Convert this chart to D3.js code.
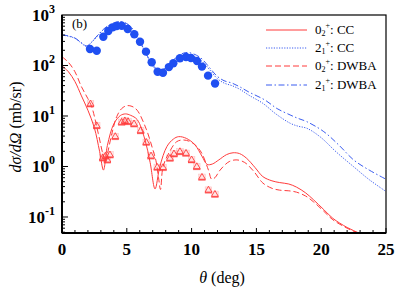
<!DOCTYPE html>
<html><head><meta charset="utf-8">
<script src="https://cdn.jsdelivr.net/npm/d3@7"></script>
<style>body{margin:0;background:#fff}svg{display:block}
svg text{font-family:"Liberation Serif","Times New Roman","Nimbus Roman","DejaVu Serif",serif}</style>
</head><body><div id="c"></div>
<script>
// ---- data (theta in deg, cross-section in mb/sr) ----
const redSolidTheta = [0,0.5,1,1.5,2,2.5,2.9,3.2,3.5,4.0,4.5,4.9,5.3,5.8,6.4,6.8,7.18,7.55,8.1,8.6,9.0,9.6,10.25,10.8,11.2,11.6,12.1,12.7,13.2,13.7,14.25,14.9,15.5,16.2,16.8,17.5,18.1,18.8,19.4,20.2,20.9,22,23,24];
const redSolidVal   = [99,75,48,25,13,5.8,2.0,0.85,2.6,7.0,10.2,11,10.3,8.5,3.4,1.2,0.36,1.0,2.5,3.5,3.9,3.6,2.7,1.6,1.1,1.12,1.35,1.72,1.87,1.8,1.45,0.95,0.63,0.52,0.48,0.45,0.39,0.3,0.22,0.14,0.094,0.062,0.047,0.035];
const redDashTheta = [0,0.5,1,1.5,2.0,2.3,2.8,3.14,3.35,3.55,3.85,4.22,4.6,5.0,5.4,5.8,6.5,7.0,7.25,7.45,7.6,7.8,8.3,8.85,9.35,9.9,10.4,10.8,11.3,11.55,11.8,12.2,12.9,13.5,14.1,14.8,15.5,16.2,16.8,17.5,18.1,18.8,19.4,20.2,20.9,22,23,24];
const redDashVal   = [149,115,75,38,22,15,4.5,1.82,1.2,2.0,4.5,9.7,14,16,15.5,13,5.5,2.2,1.3,0.6,0.35,1.0,1.96,3.1,3.35,3.1,2.5,1.8,0.85,0.56,0.6,0.85,1.25,1.35,1.2,0.8,0.47,0.37,0.34,0.33,0.31,0.26,0.2,0.13,0.088,0.06,0.046,0.035];
const blueDotTheta = [0,0.5,1.0,1.4,1.9,2.3,2.8,3.3,3.95,4.5,5.1,5.75,6.5,7.2,7.8,8.6,9.35,9.8,10.65,11.4,11.95,12.5,13.1,13.7,14.4,15.5,16.5,17.6,18.2,18.9,19.9,21.2,22.5,23.7,25];
const blueDotVal   = [402,380,345,290,240,290,400,540,680,730,640,400,165,85,78,120,160,165,130,82,56,45,40,34,26,17.8,11,7.2,6.3,5.7,3.9,1.9,0.99,0.55,0.32];
const blueDashDotTheta = [0,0.5,1.0,1.4,1.9,2.3,2.8,3.3,3.95,4.5,5.1,5.75,6.5,7.2,7.8,8.6,9.35,9.8,10.65,11.4,11.95,12.5,13.1,13.7,14.4,15.66,16.6,17.6,18.2,18.9,20.2,21.4,22.5,23.7,25];
const blueDashDotVal   = [405,385,350,295,245,295,410,550,690,740,650,410,170,90,84,130,175,180,145,90,62,50,45,38,30,20.7,14,10.5,9,7.7,4.9,2.6,1.35,0.85,0.56];
const dotsTheta = [2.16,2.68,3.19,3.57,3.91,4.22,4.61,5.07,5.58,6.02,6.48,6.92,7.38,7.79,8.25,8.59,9.10,9.57,9.95,10.42,10.80,11.27,11.81];
const dotsVal   = [212,196,372,482,570,605,614,528,415,296,188,116,75,72,93,111,139,147,141,123,95,63,44];
const triTheta = [2.2,2.68,3.14,3.35,3.5,3.7,4.11,4.6,4.85,5.1,5.56,6.07,6.5,6.87,7.35,7.8,8.33,8.64,9.1,9.57,10.0,10.4,10.8,11.3,11.8];
const triVal   = [17.3,6.4,1.47,1.6,1.34,1.69,3.9,7.5,8.0,7.7,6.95,5.1,3.0,1.61,0.96,0.95,1.45,1.77,1.96,1.82,1.35,0.99,0.61,0.34,0.28];
const xTicks = [0,5,10,15,20,25];
const yTickExp = [-1,0,1,2,3];
const legendNames = [["0","2",": CC"],["2","1",": CC"],["0","2",": DWBA"],["2","1",": DWBA"]];

// ---- layout ----
const W=399,H=289, L=62, R=386, T=15, B=233;
const RED="#ff3b3b", BLUE="#3a5cf0";
const svg=d3.select("#c").append("svg").attr("width",W).attr("height",H);
const x=d3.scaleLinear().domain([0,25]).range([L,R]);
const y=d3.scaleLog().domain([Math.pow(10,-1.317),1000]).range([B,T]);

svg.append("defs").append("clipPath").attr("id","cp").append("rect")
  .attr("x",L).attr("y",T).attr("width",R-L).attr("height",B-T);

const g=svg.append("g").attr("clip-path","url(#cp)");
const line=d3.line().x(d=>x(d[0])).y(d=>y(d[1])).curve(d3.curveCatmullRom.alpha(0.5));
const zip=(a,b)=>a.map((v,i)=>[v,b[i]]);

const series=[
  {d:zip(redSolidTheta,redSolidVal),c:RED,dash:null},
  {d:zip(blueDotTheta,blueDotVal),c:BLUE,dash:"1.2,1.4"},
  {d:zip(redDashTheta,redDashVal),c:RED,dash:"6,3"},
  {d:zip(blueDashDotTheta,blueDashDotVal),c:BLUE,dash:"6,2.5,1.5,2.5"}
];
series.forEach(s=>{
  g.append("path").attr("d",line(s.d)).attr("fill","none").attr("stroke",s.c)
   .attr("stroke-width",1).attr("stroke-dasharray",s.dash);
});

// data points
g.selectAll("circle.dot").data(zip(dotsTheta,dotsVal)).join("circle")
  .attr("cx",d=>x(d[0])).attr("cy",d=>y(d[1])).attr("r",4.2).attr("fill","#1f4ff2");
const tri=g.selectAll("g.tri").data(zip(triTheta,triVal)).join("g")
  .attr("transform",d=>`translate(${x(d[0])},${y(d[1])})`);
tri.append("rect").attr("x",-3.3).attr("y",-3.3).attr("width",6.6).attr("height",6.6)
  .attr("fill","rgba(255,80,80,0.15)").attr("stroke","rgba(255,60,60,0.3)").attr("stroke-width",0.5);
tri.append("path").attr("d",d3.symbol(d3.symbolTriangle,20)()).attr("fill","none")
  .attr("stroke",RED).attr("stroke-width",0.9);
tri.append("line").attr("x1",-3.6).attr("x2",3.6).attr("y1",2.6).attr("y2",2.6).attr("stroke",RED).attr("stroke-width",0.9);

// frame
svg.append("rect").attr("x",L).attr("y",T).attr("width",R-L).attr("height",B-T)
  .attr("fill","none").attr("stroke","#000").attr("stroke-width",1.2);
svg.append("line").attr("x1",L).attr("x2",L).attr("y1",T).attr("y2",B).attr("stroke","#000").attr("stroke-width",2);
svg.append("line").attr("x1",L).attr("x2",R).attr("y1",B).attr("y2",B).attr("stroke","#000").attr("stroke-width",2);

// x ticks
const xt=svg.append("g");
d3.range(0,26,1).forEach(v=>{
  const major=v%5===0;
  xt.append("line").attr("x1",x(v)).attr("x2",x(v)).attr("y1",B).attr("y2",B-(major?5:3))
    .attr("stroke","#000").attr("stroke-width",1);
});
xt.selectAll("text").data(xTicks).join("text").attr("x",d=>x(d)).attr("y",B+22)
  .attr("text-anchor","middle").attr("font-weight","bold")
  .attr("font-size",17).text(d=>d);

// y ticks
const yt=svg.append("g");
for(let e=-2;e<=2;e++){
  for(let m=1;m<=9;m++){
    const v=m*Math.pow(10,e);
    if(v<y.domain()[0]||v>1000) continue;
    yt.append("line").attr("x1",L).attr("x2",L+(m===1?6:3)).attr("y1",y(v)).attr("y2",y(v))
      .attr("stroke","#000").attr("stroke-width",1);
  }
}
yTickExp.forEach(e=>{
  const t=yt.append("text").attr("x",L-7).attr("y",y(Math.pow(10,e))+6).attr("text-anchor","end")
    .attr("font-weight","bold").attr("font-size",17);
  t.append("tspan").text("10");
  t.append("tspan").attr("dy",-8).attr("font-size",12).text(e);
});

// axis titles
svg.append("text").attr("transform","translate(21,127) rotate(-90)").attr("text-anchor","middle")
  .attr("font-size",16)
  .call(t=>{t.append("tspan").attr("font-style","italic").text("dσ/dΩ");t.append("tspan").text(" (mb/sr)");});
svg.append("text").attr("x",222).attr("y",283).attr("text-anchor","middle")
  .attr("font-size",16)
  .call(t=>{t.append("tspan").attr("font-style","italic").text("θ");t.append("tspan").text(" (deg)");});

// panel label
svg.append("text").attr("x",72).attr("y",28).attr("font-size",13).text("(b)");

// legend
const lg=svg.append("g");
const legY=[31,49,67,86];
series.forEach((s,i)=>{
  lg.append("line").attr("x1",266).attr("x2",307).attr("y1",legY[i]-1).attr("y2",legY[i]-1)
    .attr("stroke",s.c).attr("stroke-width",1).attr("stroke-dasharray",s.dash);
  const t=lg.append("text").attr("x",315).attr("y",legY[i]+3).attr("font-size",13);
  const n=legendNames[i];
  t.append("tspan").text(n[0]);
  t.append("tspan").attr("dy",2).attr("font-size",8).text(n[1]);
  t.append("tspan").attr("dy",-8).attr("font-size",8).text("+");
  t.append("tspan").attr("dy",6).text(n[2]);
});
</script></body></html>
